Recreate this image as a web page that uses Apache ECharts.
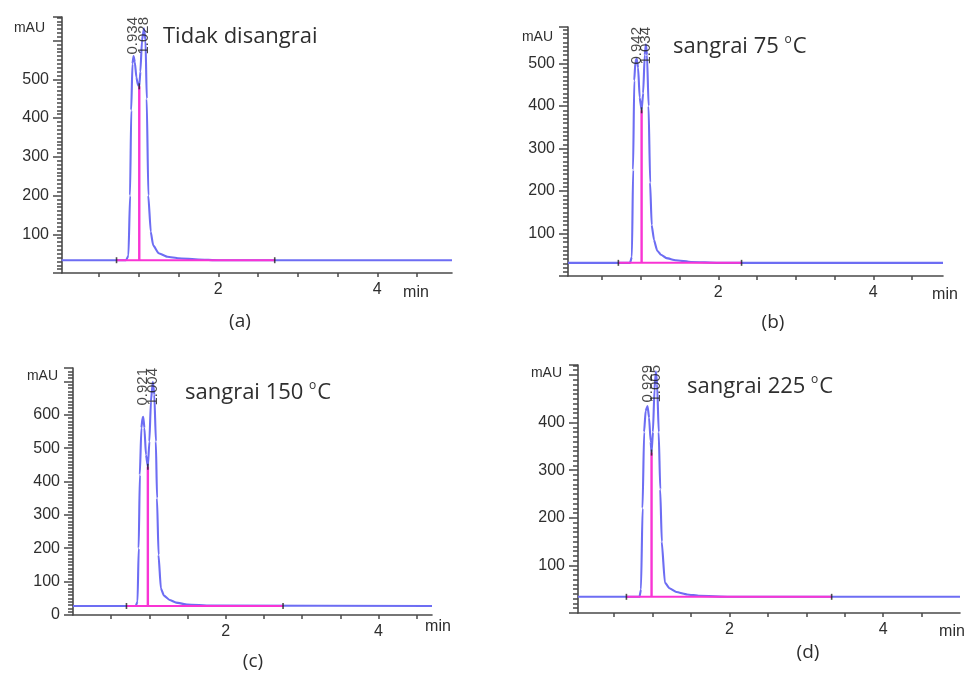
<!DOCTYPE html>
<html>
<head>
<meta charset="utf-8">
<title>Kromatogram</title>
<script src="https://cdn.jsdelivr.net/npm/echarts@6/dist/echarts.min.js"></script>
<style>
  html, body { margin: 0; background: #fff; }
  #main { width: 966px; height: 675px; }
</style>
</head>
<body>
<div id="main"></div>
<script>
// ---- data (time in min, signal in mAU) ----
var timeA   = [0.03, 0.84, 0.87, 0.89, 0.905, 0.92, 0.934, 0.95, 0.97, 0.99, 1.006, 1.02, 1.04, 1.065, 1.085, 1.10, 1.12, 1.15, 1.18, 1.25, 1.36, 1.5, 1.75, 2.0, 4.94];
var signalA = [33, 33, 45, 200, 420, 540, 560, 545, 505, 485, 482, 520, 600, 632, 600, 450, 200, 107, 72, 51, 42, 38, 35, 33, 33];

var timeB   = [0.06, 0.86, 0.885, 0.90, 0.915, 0.93, 0.947, 0.965, 0.985, 1.01, 1.03, 1.05, 1.065, 1.08, 1.10, 1.12, 1.14, 1.17, 1.21, 1.26, 1.33, 1.45, 1.65, 2.0, 4.90];
var signalB = [31, 31, 45, 250, 460, 505, 512, 490, 420, 390, 430, 520, 545, 520, 400, 220, 120, 85, 60, 50, 42, 37, 33, 31, 31];

var timeC   = [0, 0.82, 0.845, 0.86, 0.875, 0.895, 0.91, 0.92, 0.935, 0.955, 0.98, 1.0, 1.02, 1.045, 1.065, 1.085, 1.10, 1.12, 1.15, 1.19, 1.265, 1.35, 1.5, 1.8, 4.70];
var signalC = [27, 27, 40, 200, 420, 560, 590, 594, 560, 480, 444, 520, 640, 699, 660, 520, 350, 180, 80, 58, 45, 37, 31, 28, 27];

var timeD   = [0.03, 0.83, 0.85, 0.87, 0.89, 0.91, 0.935, 0.955, 0.975, 0.987, 1.005, 1.025, 1.043, 1.06, 1.08, 1.10, 1.12, 1.16, 1.22, 1.31, 1.45, 1.61, 2.0, 5.0];
var signalD = [34, 34, 50, 220, 380, 425, 435, 410, 360, 337, 380, 470, 508, 480, 380, 260, 150, 64, 52, 44, 39, 36, 34, 34];

// baseline level, integration baseline start/end, peak split (time, mAU)
var baseA = 33, integA = [0.72, 2.71], splitA = [1.006, 482];
var baseB = 31, integB = [0.71, 2.30], splitB = [1.01, 390];
var baseC = 27, integC = [0.70, 2.75], splitC = [0.98, 444];
var baseD = 34, integD = [0.66, 3.33], splitD = [0.987, 337];

// retention time labels and where they sit
var rtA = ['0.934', '1.028'], rtPosA = [0.93, 1.065];
var rtB = ['0.942', '1.034'], rtPosB = [0.947, 1.065];
var rtC = ['0.921', '1.004'], rtPosC = [0.92, 1.045];
var rtD = ['0.929', '1.005'], rtPosD = [0.935, 1.043];

var yLabelsA = [100, 200, 300, 400, 500];
var yLabelsB = [100, 200, 300, 400, 500];
var yLabelsC = [0, 100, 200, 300, 400, 500, 600];
var yLabelsD = [100, 200, 300, 400];
var xTicks  = [0.5, 1, 1.5, 2, 2.5, 3, 3.5, 4, 4.5];
var xLabels = [2, 4];

var titles   = ['Tidak disangrai', 'sangrai 75 {s|o}C', 'sangrai 150 {s|o}C', 'sangrai 225 {s|o}C'];
var captions = ['(a)', '(b)', '(c)', '(d)'];

// ---- layout ----
var blue = '#6d6df3', pink = '#f934d4', axisColor = '#4a4a4a', textColor = '#2e2e2e';

var panels = [
  {t: timeA, y: signalA, base: baseA, integ: integA, split: splitA, rt: rtA, rtPos: rtPosA, yLabels: yLabelsA,
   grid: {left: 62, top: 17, width: 390, height: 256}, xr: [0.034, 4.94], yMax: 661,
   title: [163, 37], unit: [45, 28], minLbl: [416, 293], cap: [240, 322]},
  {t: timeB, y: signalB, base: baseB, integ: integB, split: splitB, rt: rtB, rtPos: rtPosB, yLabels: yLabelsB,
   grid: {left: 568, top: 27, width: 375, height: 249}, xr: [0.06, 4.90], yMax: 586,
   title: [673, 47], unit: [553, 37], minLbl: [945, 295], cap: [773, 323]},
  {t: timeC, y: signalC, base: baseC, integ: integC, split: splitC, rt: rtC, rtPos: rtPosC, yLabels: yLabelsC,
   grid: {left: 73, top: 368, width: 359, height: 247}, xr: [0, 4.70], yMax: 740,
   title: [185, 393], unit: [58, 376], minLbl: [438, 627], cap: [253, 662]},
  {t: timeD, y: signalD, base: baseD, integ: integD, split: splitD, rt: rtD, rtPos: rtPosD, yLabels: yLabelsD,
   grid: {left: 578, top: 365, width: 382, height: 248}, xr: [0.03, 5.0], yMax: 521,
   title: [687, 387], unit: [562, 373], minLbl: [952, 632], cap: [808, 653]}
];

function zip(a, b){
  var out = [];
  for (var i = 0; i < a.length; i++) out.push([a[i], b[i]]);
  return out;
}

var grids = [], xAxes = [], yAxes = [], series = [], graphics = [];

panels.forEach(function(p, i){
  grids.push(p.grid);

  xAxes.push({
    gridIndex: i, type: 'value', min: p.xr[0], max: p.xr[1],
    axisLine: {onZero: false, lineStyle: {color: axisColor, width: 1.6}},
    axisTick: {customValues: xTicks, length: 4, lineStyle: {color: axisColor, width: 1.5}},
    axisLabel: {customValues: xLabels, fontSize: 16, color: textColor, margin: 9, fontFamily: 'Liberation Sans'},
    splitLine: {show: false}
  });

  yAxes.push({
    gridIndex: i, type: 'value', min: 0, max: p.yMax, interval: 100,
    axisLine: {show: true, onZero: false, lineStyle: {color: axisColor, width: 1.6}},
    axisTick: {show: true, length: 9, lineStyle: {color: axisColor, width: 1.5}},
    minorTick: {show: true, splitNumber: 10, length: 5, lineStyle: {color: axisColor, width: 1.5}},
    axisLabel: {customValues: p.yLabels, fontSize: 16, color: textColor, margin: 13, fontFamily: 'Liberation Sans'},
    splitLine: {show: false}
  });

  // chromatogram trace
  series.push({
    type: 'line', xAxisIndex: i, yAxisIndex: i, data: zip(p.t, p.y),
    symbol: 'none', smooth: 0.15, smoothMonotone: 'x', z: 2,
    lineStyle: {color: blue, width: 2.1}
  });
  // integration baseline
  series.push({
    type: 'line', xAxisIndex: i, yAxisIndex: i, symbol: 'none', z: 3,
    data: [[p.integ[0], p.base], [p.integ[1], p.base]],
    lineStyle: {color: pink, width: 2}
  });
  // drop line between the two peaks
  series.push({
    type: 'line', xAxisIndex: i, yAxisIndex: i, symbol: 'none', z: 3,
    data: [[p.split[0], p.base], [p.split[0], p.split[1]]],
    lineStyle: {color: pink, width: 2.4}
  });
  // small black marks at baseline ends and at the split point
  series.push({
    type: 'scatter', xAxisIndex: i, yAxisIndex: i, z: 4,
    symbol: 'rect', symbolSize: [1.6, 6],
    data: [[p.integ[0], p.base], [p.integ[1], p.base], [p.split[0], p.split[1]]],
    itemStyle: {color: '#222'}
  });
  // retention time labels, hanging down from the top of the plot
  series.push({
    type: 'scatter', xAxisIndex: i, yAxisIndex: i, z: 5, symbolSize: 1,
    itemStyle: {color: 'rgba(0,0,0,0)'},
    data: p.rtPos.map(function(x, k){ return [x, p.yMax, p.rt[k]]; }),
    label: {
      show: true, position: 'inside', rotate: 90, align: 'right', verticalAlign: 'middle',
      fontSize: 15, color: '#1a1a1a', fontFamily: 'Liberation Sans',
      formatter: function(params){ return params.value[2]; }
    }
  });

  graphics.push({
    type: 'text', x: p.title[0], y: p.title[1],
    style: {text: titles[i], fill: textColor, font: '22px "Open Sans"', verticalAlign: 'middle', lineHeight: 26,
            rich: {s: {fontSize: 12, fontFamily: 'Open Sans', verticalAlign: 'top', lineHeight: 26, padding: [0, 1, 0, 0]}}}
  });
  graphics.push({
    type: 'text', x: p.unit[0], y: p.unit[1],
    style: {text: 'mAU', fill: textColor, font: '14px "Liberation Sans"', align: 'right', verticalAlign: 'middle'}
  });
  graphics.push({
    type: 'text', x: p.minLbl[0], y: p.minLbl[1],
    style: {text: 'min', fill: textColor, font: '16px "Liberation Sans"', align: 'center', verticalAlign: 'middle'}
  });
  graphics.push({
    type: 'text', x: p.cap[0], y: p.cap[1],
    style: {text: captions[i], fill: textColor, font: '19px "Open Sans"', align: 'center', verticalAlign: 'middle'}
  });
});

var chart = echarts.init(document.getElementById('main'), null, {renderer: 'canvas'});
chart.setOption({
  backgroundColor: '#fff',
  animation: false,
  grid: grids,
  xAxis: xAxes,
  yAxis: yAxes,
  series: series,
  graphic: graphics
});
</script>
</body>
</html>
